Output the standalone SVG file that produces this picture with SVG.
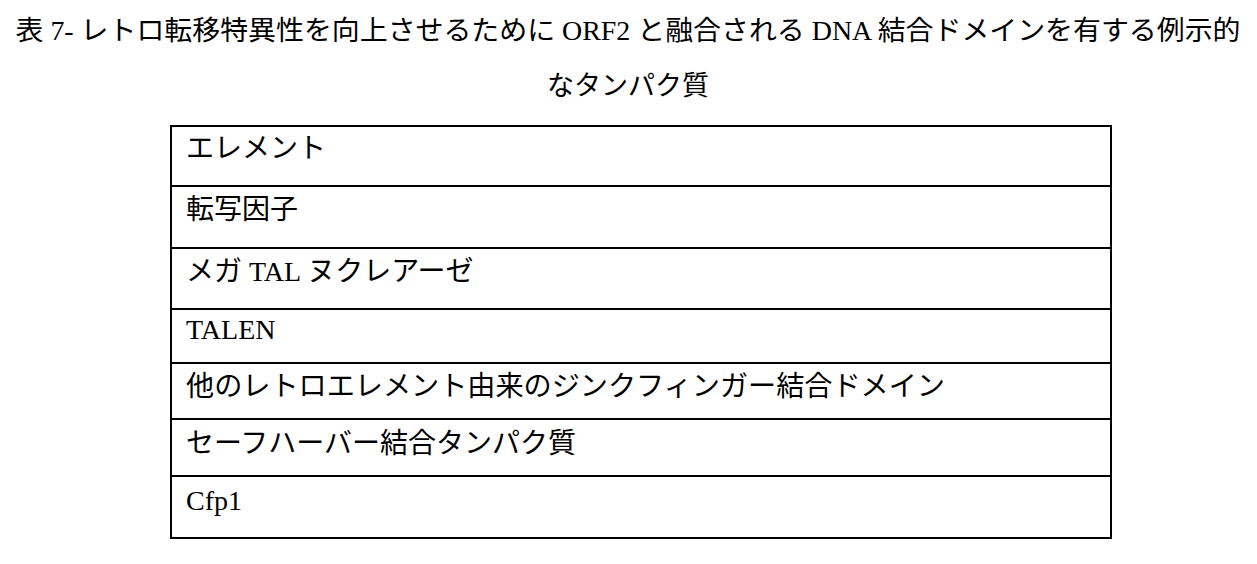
<svg xmlns="http://www.w3.org/2000/svg" width="1257" height="564" viewBox="0 0 1257 564">
<style>
text{font-family:"Liberation Serif","Noto Sans CJK JP",serif;fill:#000}
.t{font-size:27px}
.c{font-size:28px}
line{stroke:#000;stroke-width:2}
</style>
<rect width="1257" height="564" fill="#fff"/>
<text class="t" x="628" y="40" text-anchor="middle" textLength="1225" lengthAdjust="spacingAndGlyphs">表 7- レトロ転移特異性を向上させるために ORF2 と融合される DNA 結合ドメインを有する例示的</text>
<text class="t" x="628" y="95" text-anchor="middle">なタンパク質</text>
<g id="table">
<rect x="171" y="126" width="940" height="412" fill="none" stroke="#000" stroke-width="2"/>
<line x1="171" y1="186" x2="1111" y2="186"/>
<line x1="171" y1="248" x2="1111" y2="248"/>
<line x1="171" y1="309" x2="1111" y2="309"/>
<line x1="171" y1="363" x2="1111" y2="363"/>
<line x1="171" y1="419" x2="1111" y2="419"/>
<line x1="171" y1="476" x2="1111" y2="476"/>
</g>
<g id="rows">
<text class="c" x="186" y="158">エレメント</text>
<text class="c" x="186" y="219">転写因子</text>
<text class="c" x="186" y="281">メガ TAL ヌクレアーゼ</text>
<text class="c" x="186" y="339">TALEN</text>
<text class="c" x="186" y="396" textLength="759" lengthAdjust="spacingAndGlyphs">他のレトロエレメント由来のジンクフィンガー結合ドメイン</text>
<text class="c" x="186" y="453">セーフハーバー結合タンパク質</text>
<text class="c" x="186" y="510">Cfp1</text>
</g>
</svg>
